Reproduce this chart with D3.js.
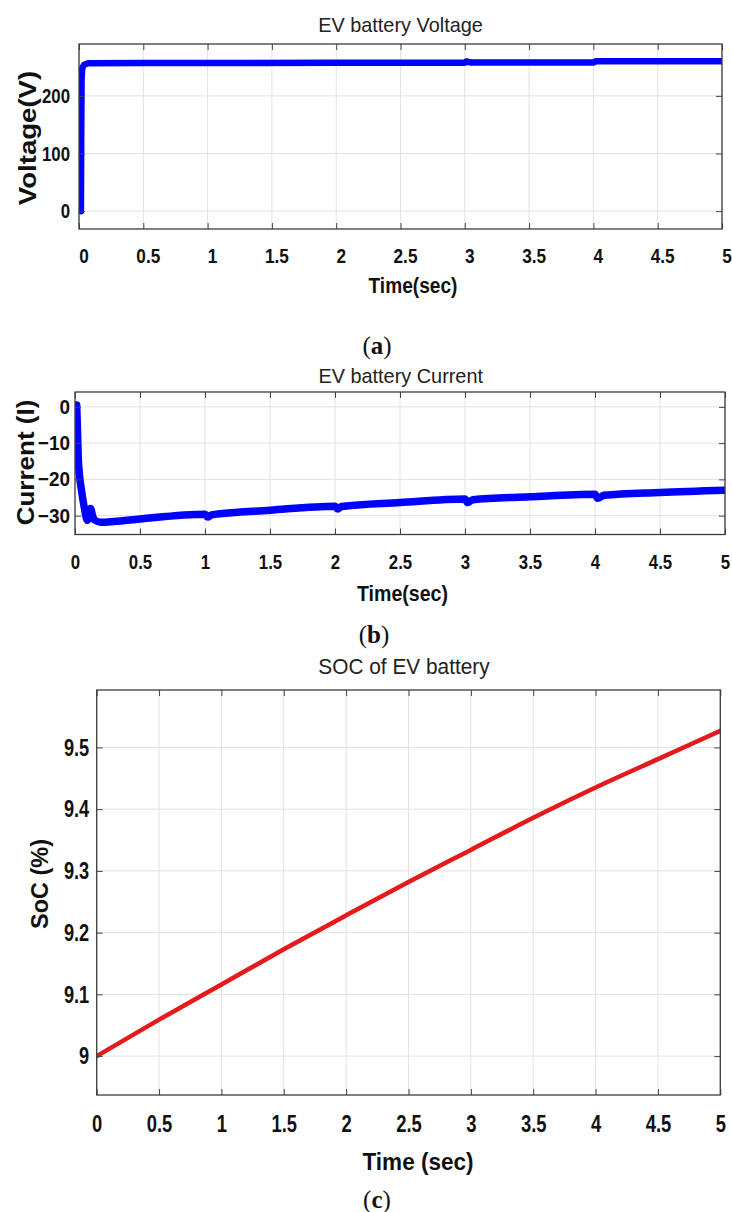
<!DOCTYPE html>
<html>
<head>
<meta charset="utf-8">
<script src="https://cdn.jsdelivr.net/npm/d3@7"></script>
<style>
  body { margin: 0; background: #fff; }
  svg text { font-family: Arial, "Liberation Sans", Helvetica, sans-serif; fill: #111; }
</style>
</head>
<body>
<svg id="chart" width="732" height="1212"></svg>
<script>
// time ticks, shared by all three plots
var timeTicks = [0, 0.5, 1, 1.5, 2, 2.5, 3, 3.5, 4, 4.5, 5]

// (a) EV battery voltage
var voltTime  = [0.015, 0.017, 0.02, 0.025, 0.04, 0.07, 0.5, 1, 2, 3, 3.01, 3.05, 3.06, 4, 4.02, 5]
var voltValue = [0, 120, 230, 248, 254, 256.5, 257, 257, 257.3, 257.5, 259.5, 258, 257.8, 258, 260, 260]
var voltTicks = [0, 100, 200]

// (b) EV battery current
var currTime  = [0.013, 0.018, 0.025, 0.035, 0.05, 0.07, 0.095, 0.11, 0.12, 0.135, 0.15, 0.2, 0.3, 0.5,
                 1, 1.02, 1.05, 1.5, 2, 2.02, 2.05, 2.5, 3, 3.02, 3.06, 3.5, 4, 4.02, 4.07, 4.5, 5]
var currValue = [0.5, -5, -14, -19, -23, -27.5, -31.3, -29.5, -28, -30, -31.2, -31.8, -31.6, -30.9,
                 -29.6, -30.4, -29.8, -28.5, -27.4, -28.2, -27.5, -26.4, -25.4, -26.4, -25.6, -24.8, -24.1, -25.2, -24.4, -23.6, -23]
var currTicks = [-30, -20, -10, 0]

// (c) state of charge
var socTime  = [0, 0.5, 1, 1.5, 2, 2.5, 3, 3.5, 4, 4.5, 5]
var socValue = [9.0, 9.059, 9.116, 9.173, 9.228, 9.282, 9.334, 9.386, 9.435, 9.481, 9.527]
var socTicks = [9, 9.1, 9.2, 9.3, 9.4, 9.5]

var svg = d3.select("#chart")

// layout of each panel (pixels)
var panels = [
  { key: "a", t: voltTime, v: voltValue, yTicks: voltTicks, ydom: [-31, 290],
    left: 79, right: 722, top: 44, bottom: 229, color: "#0000ff", lw: 6.5, curve: d3.curveLinear,
    title: "EV battery Voltage", titleX: 400.5, titleY: 25, titleSize: 20.5, titleSx: 0.97,
    xlab: "Time(sec)", xlabX: 413, xlabY: 285, xlabSize: 22, xlabSx: 0.87,
    ylab: "Voltage(V)", ylabX: 28, ylabY: 138, ylabSize: 23, ylabSx: 1.2,
    xtSize: 21, xtSx: 0.82, xtPad: 19, xtShift: 4.5,
    ytSize: 21, ytSx: 0.8, ytPad: 9, yFmt: d3.format("d"),
    cap: "a", capX: 377, capY: 346 },
  { key: "b", t: currTime, v: currValue, yTicks: currTicks, ydom: [-35.2, 4.1],
    left: 75, right: 725, top: 392, bottom: 534.5, color: "#0000ff", lw: 7.5, curve: d3.curveMonotoneX,
    title: "EV battery Current", titleX: 400.7, titleY: 376, titleSize: 20.5, titleSx: 0.97,
    xlab: "Time(sec)", xlabX: 402.5, xlabY: 593, xlabSize: 22, xlabSx: 0.89,
    ylab: "Current (I)", ylabX: 25.5, ylabY: 462.5, ylabSize: 23, ylabSx: 1.13,
    xtSize: 21, xtSx: 0.8, xtPad: 19.5, xtShift: 0,
    ytSize: 20, ytSx: 0.95, ytPad: 5, yFmt: d3.format("d"),
    cap: "b", capX: 374, capY: 635 },
  { key: "c", t: socTime, v: socValue, yTicks: socTicks, ydom: [8.937, 9.593],
    left: 96.7, right: 720.3, top: 690, bottom: 1095, color: "#e51a1d", lw: 4.5, curve: d3.curveMonotoneX,
    title: "SOC of EV battery", titleX: 404, titleY: 666, titleSize: 21.5, titleSx: 0.97,
    xlab: "Time (sec)", xlabX: 418, xlabY: 1161.7, xlabSize: 23, xlabSx: 0.98,
    ylab: "SoC (%)", ylabX: 39.7, ylabY: 884, ylabSize: 23.5, ylabSx: 1,
    xtSize: 23, xtSx: 0.8, xtPad: 21, xtShift: 0,
    ytSize: 24, ytSx: 0.76, ytPad: 7.5, yFmt: d3.format("~g"),
    cap: "c", capX: 377, capY: 1200 }
]

function addText(g, str, x, y, size, weight, sx, rotated) {
  return g.append("text")
    .attr("transform", "translate(" + x + "," + y + ")" + (rotated ? " rotate(-90)" : "") + " scale(" + sx + ",1)")
    .attr("text-anchor", "middle")
    .attr("dy", "0.35em")
    .attr("font-size", size)
    .attr("font-weight", weight)
    .text(str)
}

panels.forEach(function(p) {
  var x = d3.scaleLinear().domain([0, 5]).range([p.left, p.right])
  var y = d3.scaleLinear().domain(p.ydom).range([p.bottom, p.top])
  var g = svg.append("g")

  // grid
  g.selectAll(".vgrid").data(timeTicks).join("line")
    .attr("x1", d => x(d)).attr("x2", d => x(d))
    .attr("y1", p.top).attr("y2", p.bottom)
    .attr("stroke", "#e2e2e2").attr("stroke-width", 1)
  g.selectAll(".hgrid").data(p.yTicks).join("line")
    .attr("x1", p.left).attr("x2", p.right)
    .attr("y1", d => y(d)).attr("y2", d => y(d))
    .attr("stroke", "#e2e2e2").attr("stroke-width", 1)

  // the trace, clipped to the box
  g.append("clipPath").attr("id", "clip" + p.key)
    .append("rect").attr("x", p.left).attr("y", p.top)
    .attr("width", p.right - p.left).attr("height", p.bottom - p.top)
  var pts = p.t.map((t, i) => [t, p.v[i]])
  g.append("path")
    .datum(pts)
    .attr("clip-path", "url(#clip" + p.key + ")")
    .attr("fill", "none")
    .attr("stroke", p.color)
    .attr("stroke-width", p.lw)
    .attr("stroke-linejoin", "round")
    .attr("stroke-linecap", "round")
    .attr("d", d3.line().curve(p.curve).x(d => x(d[0])).y(d => y(d[1])))

  // axes, ticks point inward like matlab
  var xb = g.append("g").attr("transform", "translate(0," + p.bottom + ")")
    .call(d3.axisBottom(x).tickValues(timeTicks).tickFormat(d3.format("~g"))
      .tickSizeInner(-6).tickSizeOuter(0).tickPadding(p.xtPad))
  xb.selectAll("text").attr("font-size", p.xtSize).attr("font-weight", "bold")
    .attr("font-family", "Arial, 'Liberation Sans', sans-serif").attr("fill", "#111")
    .attr("transform", "scale(" + p.xtSx + ",1)").attr("x", p.xtShift / p.xtSx)
  g.append("g").attr("transform", "translate(0," + p.top + ")")
    .call(d3.axisTop(x).tickValues(timeTicks).tickFormat("").tickSizeInner(-6).tickSizeOuter(0))

  var yl = g.append("g").attr("transform", "translate(" + p.left + ",0)")
    .call(d3.axisLeft(y).tickValues(p.yTicks).tickFormat(p.yFmt)
      .tickSizeInner(-6).tickSizeOuter(0).tickPadding(p.ytPad))
  yl.selectAll("text").attr("font-size", p.ytSize).attr("font-weight", "bold")
    .attr("font-family", "Arial, 'Liberation Sans', sans-serif").attr("fill", "#111")
    .attr("transform", "scale(" + p.ytSx + ",1)").attr("x", -p.ytPad / p.ytSx)
  g.append("g").attr("transform", "translate(" + p.right + ",0)")
    .call(d3.axisRight(y).tickValues(p.yTicks).tickFormat("").tickSizeInner(-6).tickSizeOuter(0))

  g.selectAll(".domain").remove()
  g.selectAll(".tick line").attr("stroke", "#444").attr("stroke-width", 1)

  // box
  g.append("rect")
    .attr("x", p.left).attr("y", p.top)
    .attr("width", p.right - p.left).attr("height", p.bottom - p.top)
    .attr("fill", "none").attr("stroke", "#3c3c3c").attr("stroke-width", 1.3)

  // texts
  addText(g, p.title, p.titleX, p.titleY, p.titleSize, "normal", p.titleSx, false).style("fill", "#222")
  addText(g, p.xlab, p.xlabX, p.xlabY, p.xlabSize, "bold", p.xlabSx, false)
  addText(g, p.ylab, p.ylabX, p.ylabY, p.ylabSize, "bold", p.ylabSx, true)

  // sub-figure caption (a), (b), (c)
  var cap = g.append("text")
    .attr("x", p.capX).attr("y", p.capY).attr("dy", "0.3em")
    .attr("text-anchor", "middle")
    .attr("font-size", 25)
    .style("font-family", "'Liberation Serif', 'DejaVu Serif', serif")
  cap.append("tspan").text("(")
  cap.append("tspan").attr("font-weight", "bold").text(p.cap)
  cap.append("tspan").text(")")
})
</script>
</body>
</html>
